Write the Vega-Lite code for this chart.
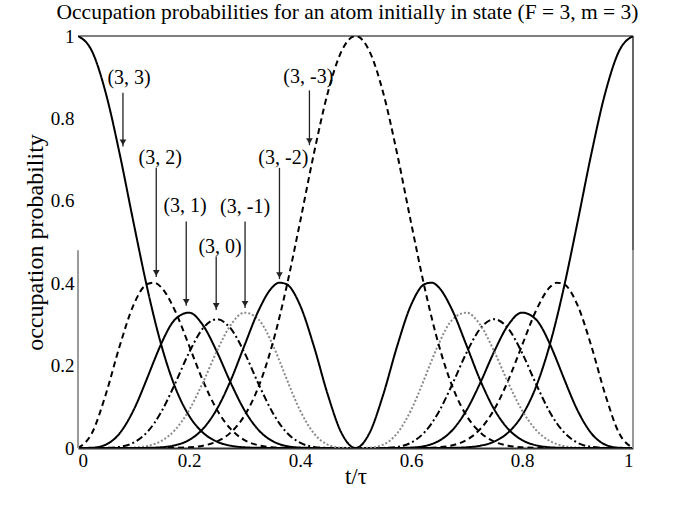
{
"$schema": "https://vega.github.io/schema/vega-lite/v6.json",
"autosize": "none",
"width": 555,
"height": 412,
"padding": {"left": 78, "top": 36, "right": 52, "bottom": 58},
"background": "white",
"config": {"view": {"stroke": null}, "font": "Liberation Serif"},
"title": {"text": "Occupation probabilities for an atom initially in state (F = 3, m = 3)", "font": "Liberation Serif", "fontSize": 21.5, "fontWeight": "normal", "color": "#000", "offset": 4, "dx": -8},
"datasets": {
"prob": [
{"t":0,"s":"3","p":1},{"t":0,"s":"2","p":0},{"t":0,"s":"1","p":0},{"t":0,"s":"0","p":0},{"t":0,"s":"-1","p":0},{"t":0,"s":"-2","p":0},{"t":0,"s":"-3","p":0},
{"t":0.025,"s":"3","p":0.96363},{"t":0.025,"s":"2","p":0.03581},{"t":0.025,"s":"1","p":0.00055},{"t":0.025,"s":"0","p":0.000005},{"t":0.025,"s":"-1","p":0},{"t":0.025,"s":"-2","p":0},{"t":0.025,"s":"-3","p":0},
{"t":0.05,"s":"3","p":0.86186},{"t":0.05,"s":"2","p":0.12972},{"t":0.05,"s":"1","p":0.00814},{"t":0.05,"s":"0","p":0.00027},{"t":0.05,"s":"-1","p":0.000005},{"t":0.05,"s":"-2","p":0},{"t":0.05,"s":"-3","p":0},
{"t":0.075,"s":"3","p":0.71446},{"t":0.075,"s":"2","p":0.24708},{"t":0.075,"s":"1","p":0.0356},{"t":0.075,"s":"0","p":0.00274},{"t":0.075,"s":"-1","p":0.00012},{"t":0.075,"s":"-2","p":0.000003},{"t":0.075,"s":"-3","p":0},
{"t":0.1,"s":"3","p":0.54762},{"t":0.1,"s":"2","p":0.34688},{"t":0.1,"s":"1","p":0.09155},{"t":0.1,"s":"0","p":0.01289},{"t":0.1,"s":"-1","p":0.00102},{"t":0.1,"s":"-2","p":0.00004},{"t":0.1,"s":"-3","p":0.000001},
{"t":0.125,"s":"3","p":0.38671},{"t":0.125,"s":"2","p":0.39809},{"t":0.125,"s":"1","p":0.17076},{"t":0.125,"s":"0","p":0.03906},{"t":0.125,"s":"-1","p":0.00503},{"t":0.125,"s":"-2","p":0.00034},{"t":0.125,"s":"-3","p":0.00001},
{"t":0.1375,"s":"3","p":0.31467},{"t":0.1375,"s":"2","p":0.40125},{"t":0.1375,"s":"1","p":0.21319},{"t":0.1375,"s":"0","p":0.06041},{"t":0.1375,"s":"-1","p":0.00963},{"t":0.1375,"s":"-2","p":0.00082},{"t":0.1375,"s":"-3","p":0.00003},
{"t":0.15,"s":"3","p":0.25036},{"t":0.15,"s":"2","p":0.38999},{"t":0.15,"s":"1","p":0.25312},{"t":0.15,"s":"0","p":0.08762},{"t":0.15,"s":"-1","p":0.01706},{"t":0.15,"s":"-2","p":0.00177},{"t":0.15,"s":"-3","p":0.00008},
{"t":0.175,"s":"3","p":0.14763},{"t":0.175,"s":"2","p":0.33265},{"t":0.175,"s":"1","p":0.31229},{"t":0.175,"s":"0","p":0.15636},{"t":0.175,"s":"-1","p":0.04404},{"t":0.175,"s":"-2","p":0.00662},{"t":0.175,"s":"-3","p":0.00041},
{"t":0.2,"s":"3","p":0.07861},{"t":0.2,"s":"2","p":0.24898},{"t":0.2,"s":"1","p":0.32857},{"t":0.2,"s":"0","p":0.23126},{"t":0.2,"s":"-1","p":0.09155},{"t":0.2,"s":"-2","p":0.01933},{"t":0.2,"s":"-3","p":0.0017},
{"t":0.225,"s":"3","p":0.03737},{"t":0.225,"s":"2","p":0.16357},{"t":0.225,"s":"1","p":0.29829},{"t":0.225,"s":"0","p":0.29012},{"t":0.225,"s":"-1","p":0.15872},{"t":0.225,"s":"-2","p":0.04631},{"t":0.225,"s":"-3","p":0.00563},
{"t":0.25,"s":"3","p":0.01563},{"t":0.25,"s":"2","p":0.09375},{"t":0.25,"s":"1","p":0.23438},{"t":0.25,"s":"0","p":0.3125},{"t":0.25,"s":"-1","p":0.23438},{"t":0.25,"s":"-2","p":0.09375},{"t":0.25,"s":"-3","p":0.01563},
{"t":0.275,"s":"3","p":0.00563},{"t":0.275,"s":"2","p":0.04631},{"t":0.275,"s":"1","p":0.15872},{"t":0.275,"s":"0","p":0.29012},{"t":0.275,"s":"-1","p":0.29829},{"t":0.275,"s":"-2","p":0.16357},{"t":0.275,"s":"-3","p":0.03737},
{"t":0.3,"s":"3","p":0.0017},{"t":0.3,"s":"2","p":0.01933},{"t":0.3,"s":"1","p":0.09155},{"t":0.3,"s":"0","p":0.23126},{"t":0.3,"s":"-1","p":0.32857},{"t":0.3,"s":"-2","p":0.24898},{"t":0.3,"s":"-3","p":0.07861},
{"t":0.325,"s":"3","p":0.00041},{"t":0.325,"s":"2","p":0.00662},{"t":0.325,"s":"1","p":0.04404},{"t":0.325,"s":"0","p":0.15636},{"t":0.325,"s":"-1","p":0.31229},{"t":0.325,"s":"-2","p":0.33265},{"t":0.325,"s":"-3","p":0.14763},
{"t":0.35,"s":"3","p":0.00008},{"t":0.35,"s":"2","p":0.00177},{"t":0.35,"s":"1","p":0.01706},{"t":0.35,"s":"0","p":0.08762},{"t":0.35,"s":"-1","p":0.25312},{"t":0.35,"s":"-2","p":0.38999},{"t":0.35,"s":"-3","p":0.25036},
{"t":0.3625,"s":"3","p":0.00003},{"t":0.3625,"s":"2","p":0.00082},{"t":0.3625,"s":"1","p":0.00963},{"t":0.3625,"s":"0","p":0.06041},{"t":0.3625,"s":"-1","p":0.21319},{"t":0.3625,"s":"-2","p":0.40125},{"t":0.3625,"s":"-3","p":0.31467},
{"t":0.375,"s":"3","p":0.00001},{"t":0.375,"s":"2","p":0.00034},{"t":0.375,"s":"1","p":0.00503},{"t":0.375,"s":"0","p":0.03906},{"t":0.375,"s":"-1","p":0.17076},{"t":0.375,"s":"-2","p":0.39809},{"t":0.375,"s":"-3","p":0.38671},
{"t":0.4,"s":"3","p":0.000001},{"t":0.4,"s":"2","p":0.00004},{"t":0.4,"s":"1","p":0.00102},{"t":0.4,"s":"0","p":0.01289},{"t":0.4,"s":"-1","p":0.09155},{"t":0.4,"s":"-2","p":0.34688},{"t":0.4,"s":"-3","p":0.54762},
{"t":0.425,"s":"3","p":0},{"t":0.425,"s":"2","p":0.000003},{"t":0.425,"s":"1","p":0.00012},{"t":0.425,"s":"0","p":0.00274},{"t":0.425,"s":"-1","p":0.0356},{"t":0.425,"s":"-2","p":0.24708},{"t":0.425,"s":"-3","p":0.71446},
{"t":0.45,"s":"3","p":0},{"t":0.45,"s":"2","p":0},{"t":0.45,"s":"1","p":0.000005},{"t":0.45,"s":"0","p":0.00027},{"t":0.45,"s":"-1","p":0.00814},{"t":0.45,"s":"-2","p":0.12972},{"t":0.45,"s":"-3","p":0.86186},
{"t":0.475,"s":"3","p":0},{"t":0.475,"s":"2","p":0},{"t":0.475,"s":"1","p":0},{"t":0.475,"s":"0","p":0.000005},{"t":0.475,"s":"-1","p":0.00055},{"t":0.475,"s":"-2","p":0.03581},{"t":0.475,"s":"-3","p":0.96363},
{"t":0.5,"s":"3","p":0},{"t":0.5,"s":"2","p":0},{"t":0.5,"s":"1","p":0},{"t":0.5,"s":"0","p":0},{"t":0.5,"s":"-1","p":0},{"t":0.5,"s":"-2","p":0},{"t":0.5,"s":"-3","p":1},
{"t":0.525,"s":"3","p":0},{"t":0.525,"s":"2","p":0},{"t":0.525,"s":"1","p":0},{"t":0.525,"s":"0","p":0.000005},{"t":0.525,"s":"-1","p":0.00055},{"t":0.525,"s":"-2","p":0.03581},{"t":0.525,"s":"-3","p":0.96363},
{"t":0.55,"s":"3","p":0},{"t":0.55,"s":"2","p":0},{"t":0.55,"s":"1","p":0.000005},{"t":0.55,"s":"0","p":0.00027},{"t":0.55,"s":"-1","p":0.00814},{"t":0.55,"s":"-2","p":0.12972},{"t":0.55,"s":"-3","p":0.86186},
{"t":0.575,"s":"3","p":0},{"t":0.575,"s":"2","p":0.000003},{"t":0.575,"s":"1","p":0.00012},{"t":0.575,"s":"0","p":0.00274},{"t":0.575,"s":"-1","p":0.0356},{"t":0.575,"s":"-2","p":0.24708},{"t":0.575,"s":"-3","p":0.71446},
{"t":0.6,"s":"3","p":0.000001},{"t":0.6,"s":"2","p":0.00004},{"t":0.6,"s":"1","p":0.00102},{"t":0.6,"s":"0","p":0.01289},{"t":0.6,"s":"-1","p":0.09155},{"t":0.6,"s":"-2","p":0.34688},{"t":0.6,"s":"-3","p":0.54762},
{"t":0.625,"s":"3","p":0.00001},{"t":0.625,"s":"2","p":0.00034},{"t":0.625,"s":"1","p":0.00503},{"t":0.625,"s":"0","p":0.03906},{"t":0.625,"s":"-1","p":0.17076},{"t":0.625,"s":"-2","p":0.39809},{"t":0.625,"s":"-3","p":0.38671},
{"t":0.6375,"s":"3","p":0.00003},{"t":0.6375,"s":"2","p":0.00082},{"t":0.6375,"s":"1","p":0.00963},{"t":0.6375,"s":"0","p":0.06041},{"t":0.6375,"s":"-1","p":0.21319},{"t":0.6375,"s":"-2","p":0.40125},{"t":0.6375,"s":"-3","p":0.31467},
{"t":0.65,"s":"3","p":0.00008},{"t":0.65,"s":"2","p":0.00177},{"t":0.65,"s":"1","p":0.01706},{"t":0.65,"s":"0","p":0.08762},{"t":0.65,"s":"-1","p":0.25312},{"t":0.65,"s":"-2","p":0.38999},{"t":0.65,"s":"-3","p":0.25036},
{"t":0.675,"s":"3","p":0.00041},{"t":0.675,"s":"2","p":0.00662},{"t":0.675,"s":"1","p":0.04404},{"t":0.675,"s":"0","p":0.15636},{"t":0.675,"s":"-1","p":0.31229},{"t":0.675,"s":"-2","p":0.33265},{"t":0.675,"s":"-3","p":0.14763},
{"t":0.7,"s":"3","p":0.0017},{"t":0.7,"s":"2","p":0.01933},{"t":0.7,"s":"1","p":0.09155},{"t":0.7,"s":"0","p":0.23126},{"t":0.7,"s":"-1","p":0.32857},{"t":0.7,"s":"-2","p":0.24898},{"t":0.7,"s":"-3","p":0.07861},
{"t":0.725,"s":"3","p":0.00563},{"t":0.725,"s":"2","p":0.04631},{"t":0.725,"s":"1","p":0.15872},{"t":0.725,"s":"0","p":0.29012},{"t":0.725,"s":"-1","p":0.29829},{"t":0.725,"s":"-2","p":0.16357},{"t":0.725,"s":"-3","p":0.03737},
{"t":0.75,"s":"3","p":0.01563},{"t":0.75,"s":"2","p":0.09375},{"t":0.75,"s":"1","p":0.23438},{"t":0.75,"s":"0","p":0.3125},{"t":0.75,"s":"-1","p":0.23438},{"t":0.75,"s":"-2","p":0.09375},{"t":0.75,"s":"-3","p":0.01563},
{"t":0.775,"s":"3","p":0.03737},{"t":0.775,"s":"2","p":0.16357},{"t":0.775,"s":"1","p":0.29829},{"t":0.775,"s":"0","p":0.29012},{"t":0.775,"s":"-1","p":0.15872},{"t":0.775,"s":"-2","p":0.04631},{"t":0.775,"s":"-3","p":0.00563},
{"t":0.8,"s":"3","p":0.07861},{"t":0.8,"s":"2","p":0.24898},{"t":0.8,"s":"1","p":0.32857},{"t":0.8,"s":"0","p":0.23126},{"t":0.8,"s":"-1","p":0.09155},{"t":0.8,"s":"-2","p":0.01933},{"t":0.8,"s":"-3","p":0.0017},
{"t":0.825,"s":"3","p":0.14763},{"t":0.825,"s":"2","p":0.33265},{"t":0.825,"s":"1","p":0.31229},{"t":0.825,"s":"0","p":0.15636},{"t":0.825,"s":"-1","p":0.04404},{"t":0.825,"s":"-2","p":0.00662},{"t":0.825,"s":"-3","p":0.00041},
{"t":0.85,"s":"3","p":0.25036},{"t":0.85,"s":"2","p":0.38999},{"t":0.85,"s":"1","p":0.25312},{"t":0.85,"s":"0","p":0.08762},{"t":0.85,"s":"-1","p":0.01706},{"t":0.85,"s":"-2","p":0.00177},{"t":0.85,"s":"-3","p":0.00008},
{"t":0.8625,"s":"3","p":0.31467},{"t":0.8625,"s":"2","p":0.40125},{"t":0.8625,"s":"1","p":0.21319},{"t":0.8625,"s":"0","p":0.06041},{"t":0.8625,"s":"-1","p":0.00963},{"t":0.8625,"s":"-2","p":0.00082},{"t":0.8625,"s":"-3","p":0.00003},
{"t":0.875,"s":"3","p":0.38671},{"t":0.875,"s":"2","p":0.39809},{"t":0.875,"s":"1","p":0.17076},{"t":0.875,"s":"0","p":0.03906},{"t":0.875,"s":"-1","p":0.00503},{"t":0.875,"s":"-2","p":0.00034},{"t":0.875,"s":"-3","p":0.00001},
{"t":0.9,"s":"3","p":0.54762},{"t":0.9,"s":"2","p":0.34688},{"t":0.9,"s":"1","p":0.09155},{"t":0.9,"s":"0","p":0.01289},{"t":0.9,"s":"-1","p":0.00102},{"t":0.9,"s":"-2","p":0.00004},{"t":0.9,"s":"-3","p":0.000001},
{"t":0.925,"s":"3","p":0.71446},{"t":0.925,"s":"2","p":0.24708},{"t":0.925,"s":"1","p":0.0356},{"t":0.925,"s":"0","p":0.00274},{"t":0.925,"s":"-1","p":0.00012},{"t":0.925,"s":"-2","p":0.000003},{"t":0.925,"s":"-3","p":0},
{"t":0.95,"s":"3","p":0.86186},{"t":0.95,"s":"2","p":0.12972},{"t":0.95,"s":"1","p":0.00814},{"t":0.95,"s":"0","p":0.00027},{"t":0.95,"s":"-1","p":0.000005},{"t":0.95,"s":"-2","p":0},{"t":0.95,"s":"-3","p":0},
{"t":0.975,"s":"3","p":0.96363},{"t":0.975,"s":"2","p":0.03581},{"t":0.975,"s":"1","p":0.00055},{"t":0.975,"s":"0","p":0.000005},{"t":0.975,"s":"-1","p":0},{"t":0.975,"s":"-2","p":0},{"t":0.975,"s":"-3","p":0},
{"t":1,"s":"3","p":1},{"t":1,"s":"2","p":0},{"t":1,"s":"1","p":0},{"t":1,"s":"0","p":0},{"t":1,"s":"-1","p":0},{"t":1,"s":"-2","p":0},{"t":1,"s":"-3","p":0}
],
"labels": [
{"t":0.092,"p":0.899,"label":"(3, 3)"},
{"t":0.148,"p":0.704,"label":"(3, 2)"},
{"t":0.193,"p":0.588,"label":"(3, 1)"},
{"t":0.256,"p":0.487,"label":"(3, 0)"},
{"t":0.301,"p":0.586,"label":"(3, -1)"},
{"t":0.37,"p":0.704,"label":"(3, -2)"},
{"t":0.415,"p":0.901,"label":"(3, -3)"}
],
"arrows": [
{"t":0.081,"p":0.862,"p2":0.732},
{"t":0.141,"p":0.68,"p2":0.415},
{"t":0.195,"p":0.55,"p2":0.345},
{"t":0.249,"p":0.465,"p2":0.335},
{"t":0.301,"p":0.55,"p2":0.34},
{"t":0.363,"p":0.68,"p2":0.41},
{"t":0.417,"p":0.868,"p2":0.735}
],
"frameGray": [
{"t":0,"t2":0,"p":0,"p2":0.48},
{"t":1,"t2":1,"p":0,"p2":0.48}
],
"frameBlack": [
{"t":0,"t2":1,"p":1,"p2":1},
{"t":1,"t2":1,"p":0.48,"p2":1}
]
},
"layer": [
{
"data": {"name": "prob"},
"mark": {"type": "line", "interpolate": "monotone", "clip": true},
"encoding": {
"x": {"field": "t", "type": "quantitative", "scale": {"domain": [0, 1], "nice": false},
"axis": {"title": "t/τ", "values": [0, 0.2, 0.4, 0.6, 0.8, 1], "format": "~g", "labelFont": "Liberation Serif", "labelFontSize": 19, "labelColor": "#000", "labelPadding": 3, "ticks": false, "domain": true, "domainColor": "#333", "domainWidth": 2, "grid": false, "titleFont": "Liberation Serif", "titleFontSize": 23, "titleFontWeight": "normal", "titleColor": "#000", "titlePadding": -5}},
"y": {"field": "p", "type": "quantitative", "scale": {"domain": [0, 1], "nice": false},
"axis": {"title": "occupation probability", "values": [0, 0.2, 0.4, 0.6, 0.8, 1], "format": "~g", "labelFont": "Liberation Serif", "labelFontSize": 19, "labelColor": "#000", "labelPadding": 4, "ticks": false, "domain": false, "grid": false, "titleFont": "Liberation Serif", "titleFontSize": 24, "titleFontWeight": "normal", "titleColor": "#000", "titlePadding": 3}},
"detail": {"field": "s", "type": "nominal"},
"color": {"field": "s", "type": "nominal", "legend": null, "scale": {"domain": ["3","2","1","0","-1","-2","-3"], "range": ["#000","#000","#000","#000","#8a8a8a","#000","#000"]}},
"strokeDash": {"field": "s", "type": "nominal", "legend": null, "scale": {"domain": ["3","2","1","0","-1","-2","-3"], "range": [[1,0],[6,4],[1,0],[7,3,2,3],[2,2],[1,0],[6,4]]}},
"strokeWidth": {"field": "s", "type": "nominal", "legend": null, "scale": {"domain": ["3","2","1","0","-1","-2","-3"], "range": [2,2,2,2,1.5,2,2]}}
}
},
{
"data": {"name": "frameGray"},
"mark": {"type": "rule", "color": "#9a9a9a", "strokeWidth": 2},
"encoding": {
"x": {"field": "t", "type": "quantitative", "scale": {"domain": [0, 1], "nice": false}},
"x2": {"field": "t2"},
"y": {"field": "p", "type": "quantitative", "scale": {"domain": [0, 1], "nice": false}},
"y2": {"field": "p2"}
}
},
{
"data": {"name": "frameBlack"},
"mark": {"type": "rule", "color": "#000", "strokeWidth": 1.2},
"encoding": {
"x": {"field": "t", "type": "quantitative", "scale": {"domain": [0, 1], "nice": false}},
"x2": {"field": "t2"},
"y": {"field": "p", "type": "quantitative", "scale": {"domain": [0, 1], "nice": false}},
"y2": {"field": "p2"}
}
},
{
"data": {"name": "arrows"},
"mark": {"type": "rule", "color": "#222", "strokeWidth": 1.3},
"encoding": {
"x": {"field": "t", "type": "quantitative", "scale": {"domain": [0, 1], "nice": false}},
"y": {"field": "p", "type": "quantitative", "scale": {"domain": [0, 1], "nice": false}},
"y2": {"field": "p2"}
}
},
{
"data": {"name": "arrows"},
"mark": {"type": "point", "shape": "triangle-down", "filled": true, "color": "#222", "size": 45, "yOffset": -4, "opacity": 1},
"encoding": {
"x": {"field": "t", "type": "quantitative", "scale": {"domain": [0, 1], "nice": false}},
"y": {"field": "p2", "type": "quantitative", "scale": {"domain": [0, 1], "nice": false}}
}
},
{
"data": {"name": "labels"},
"mark": {"type": "text", "font": "Liberation Serif", "fontSize": 20, "color": "#000", "align": "center", "baseline": "middle"},
"encoding": {
"x": {"field": "t", "type": "quantitative", "scale": {"domain": [0, 1], "nice": false}},
"y": {"field": "p", "type": "quantitative", "scale": {"domain": [0, 1], "nice": false}},
"text": {"field": "label", "type": "nominal"}
}
}
]
}
